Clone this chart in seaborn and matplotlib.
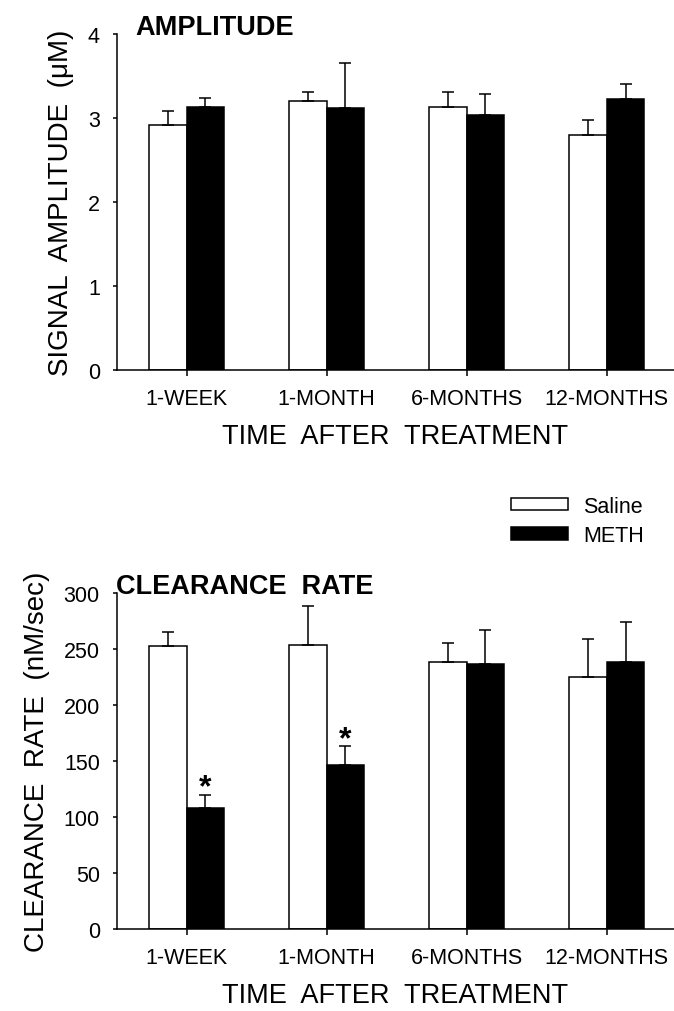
import numpy as np
import pandas as pd
import matplotlib
matplotlib.use("Agg")
import matplotlib.pyplot as plt
import seaborn as sns
from matplotlib.patches import Patch

# ---- data ----
times = ["1-WEEK", "1-MONTH", "6-MONTHS", "12-MONTHS"]
groups = ["Saline", "METH"]

amp_saline = [2.92, 3.20, 3.13, 2.80]
amp_saline_err = [0.16, 0.11, 0.18, 0.17]
amp_meth = [3.13, 3.12, 3.04, 3.22]
amp_meth_err = [0.11, 0.53, 0.24, 0.18]

clr_saline = [253, 254, 238, 225]
clr_saline_err = [12, 34, 17, 34]
clr_meth = [108, 146, 237, 238]
clr_meth_err = [12, 17, 30, 36]
clr_meth_sig = [True, True, False, False]

amp_ticks = [0, 1, 2, 3, 4]
clr_ticks = [0, 50, 100, 150, 200, 250, 300]

sns.set_style("ticks")
plt.rcParams["font.family"] = ["Liberation Sans", "DejaVu Sans"]
plt.rcParams["axes.linewidth"] = 1.1
plt.rcParams["text.color"] = "black"
plt.rcParams["axes.labelcolor"] = "black"
plt.rcParams["axes.edgecolor"] = "black"
plt.rcParams["xtick.color"] = "black"
plt.rcParams["ytick.color"] = "black"

W, H = 674, 1012
fig = plt.figure(figsize=(W / 100, H / 100), dpi=100)

def frac_axes(left, top, right, bottom):
    return fig.add_axes([left / W, 1 - bottom / H, (right - left) / W, (bottom - top) / H])

ax1 = frac_axes(116.5, 35, 674, 370.7)
ax2 = frac_axes(116.5, 594, 674, 930)

palette = {"Saline": "white", "METH": "black"}


def panel(ax, sal, sal_err, meth, meth_err, ticks, ylabel, title, sig=None):
    df = pd.DataFrame({
        "time": times * 2,
        "group": ["Saline"] * len(times) + ["METH"] * len(times),
        "value": sal + meth,
        "err": sal_err + meth_err,
    })
    sns.barplot(data=df, x="time", y="value", hue="group", order=times,
                hue_order=groups, palette=palette, edgecolor="black",
                linewidth=1.1, width=0.536, errorbar=None, legend=False,
                saturation=1, ax=ax)
    for container, g in zip(ax.containers, groups):
        sub = df[df.group == g].set_index("time").loc[times]
        xs = [p.get_x() + p.get_width() / 2 for p in container.patches]
        ax.errorbar(xs, sub["value"].values,
                    yerr=[np.zeros(len(times)), sub["err"].values],
                    fmt="none", ecolor="black", elinewidth=1.1,
                    capsize=4.5, capthick=1.1, zorder=3)
        if sig is not None and g == "METH":
            for x, v, e, s in zip(xs, sub["value"].values, sub["err"].values, sig):
                if s:
                    ax.text(x, v + e - 1, "*", ha="center", va="baseline",
                            fontsize=23, fontweight="bold", color="black")
    ax.set_xlim(-0.5, 3.48)
    ax.set_ylim(ticks[0], ticks[-1])
    ax.set_yticks(ticks)
    ax.set_yticklabels([str(t) for t in ticks])
    sns.despine(ax=ax)
    ax.tick_params(axis="x", direction="out", length=4, width=1.1,
                   pad=9, labelsize=15.5, colors="black")
    ax.tick_params(axis="y", direction="out", length=3, width=1.1,
                   pad=9, labelsize=15.5, colors="black")
    ax.set_xlabel("TIME  AFTER  TREATMENT", fontsize=19.5, labelpad=10,
                  color="black")
    ax.set_ylabel(ylabel, fontsize=20, labelpad=10, color="black")
    ax.text(title[1], 1.0, title[0], transform=ax.transAxes, ha="left",
            va="baseline", fontsize=19.5, fontweight="bold", color="black")


panel(ax1, amp_saline, amp_saline_err, amp_meth, amp_meth_err, amp_ticks,
      "SIGNAL  AMPLITUDE  (μM)", ("AMPLITUDE", 0.033))
panel(ax2, clr_saline, clr_saline_err, clr_meth, clr_meth_err, clr_ticks,
      "CLEARANCE  RATE  (nM/sec)", ("CLEARANCE  RATE", 0.0), sig=clr_meth_sig)

handles = [Patch(facecolor="white", edgecolor="black", linewidth=1.1, label="Saline"),
           Patch(facecolor="black", edgecolor="black", linewidth=1.1, label="METH")]
leg = fig.legend(handles=handles, loc="upper left",
                 bbox_to_anchor=(511 / W, 1 - 497 / H), frameon=False,
                 fontsize=15.5, handlelength=2.65, handleheight=0.5,
                 handletextpad=0.72, labelspacing=0.38, borderpad=0,
                 borderaxespad=0)
for t in leg.get_texts():
    t.set_color("black")

fig.savefig("out.png", dpi=100)
